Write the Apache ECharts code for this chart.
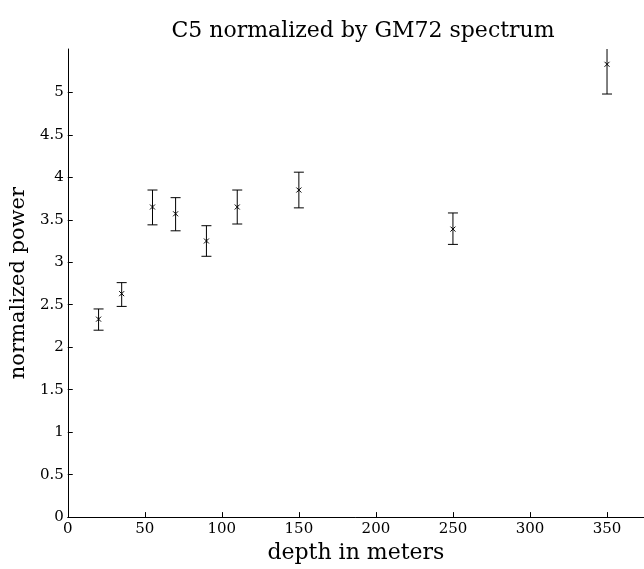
<!DOCTYPE html>
<html>
<head>
<meta charset="utf-8">
<script src="https://cdn.jsdelivr.net/npm/echarts@6/dist/echarts.min.js"></script>
<style>
html,body{margin:0;padding:0;background:#fff;}
#chart{width:644px;height:569px;}
</style>
</head>
<body>
<div id="chart"></div>
<script>
// Data
const depths = [20, 35, 55, 70, 90, 110, 150, 250, 350];
const values = [2.33, 2.63, 3.65, 3.57, 3.25, 3.65, 3.85, 3.39, 5.33];
const lower  = [2.20, 2.48, 3.44, 3.37, 3.07, 3.45, 3.64, 3.21, 4.98];
const upper  = [2.45, 2.76, 3.85, 3.76, 3.43, 3.85, 4.06, 3.58, 5.68];
const xTicks = [0, 50, 100, 150, 200, 250, 300, 350];
const yTicks = [0, 0.5, 1, 1.5, 2, 2.5, 3, 3.5, 4, 4.5, 5];

const FONT = '"DejaVu Serif", serif';
const rows = depths.map((d, i) => [d, values[i], lower[i], upper[i]]);

const chart = echarts.init(document.getElementById('chart'), null, {renderer: 'canvas'});
chart.setOption({
  animation: false,
  backgroundColor: '#fff',
  title: {
    text: 'C5 normalized by GM72 spectrum',
    left: 358, top: 15, textAlign: 'center',
    textStyle: {fontFamily: FONT, fontSize: 22, fontWeight: 'normal', color: '#000'}
  },
  grid: {left: 63, right: 0, top: 49, bottom: 47, containLabel: false},
  xAxis: {
    type: 'value', min: 0, max: 374,
    name: 'depth in meters', nameLocation: 'middle', nameGap: 21,
    nameTextStyle: {fontFamily: FONT, fontSize: 22, color: '#000'},
    axisLine: {show: true, lineStyle: {color: '#000', width: 1}},
    axisTick: {show: true, inside: true, length: 5, customValues: xTicks, lineStyle: {color: '#000'}},
    axisLabel: {customValues: xTicks, fontFamily: FONT, fontSize: 15, color: '#000', margin: 5},
    splitLine: {show: false}
  },
  yAxis: {
    type: 'value', min: 0, max: 5.51,
    name: 'normalized power', nameLocation: 'middle', nameGap: 26,
    nameTextStyle: {fontFamily: FONT, fontSize: 21, color: '#000'},
    axisLine: {show: true, lineStyle: {color: '#000', width: 1}},
    axisTick: {show: true, inside: true, length: 5, customValues: yTicks, lineStyle: {color: '#000'}},
    axisLabel: {customValues: yTicks, fontFamily: FONT, fontSize: 15, color: '#000', margin: 4},
    splitLine: {show: false}
  },
  series: [{
    type: 'custom',
    clip: true,
    data: rows,
    encode: {x: 0, y: [1, 2, 3]},
    renderItem: function (params, api) {
      const x = api.value(0);
      const p = api.coord([x, api.value(1)]);
      const lo = api.coord([x, api.value(2)]);
      const hi = api.coord([x, api.value(3)]);
      const cw = 5, m = 2.5;
      const st = {stroke: '#000', lineWidth: 1, fill: null};
      return {
        type: 'group',
        children: [
          {type: 'line', shape: {x1: lo[0], y1: lo[1], x2: hi[0], y2: hi[1]}, style: st},
          {type: 'line', shape: {x1: lo[0] - cw, y1: lo[1], x2: lo[0] + cw, y2: lo[1]}, style: st},
          {type: 'line', shape: {x1: hi[0] - cw, y1: hi[1], x2: hi[0] + cw, y2: hi[1]}, style: st},
          {type: 'line', shape: {x1: p[0] - m, y1: p[1] - m, x2: p[0] + m, y2: p[1] + m}, style: st},
          {type: 'line', shape: {x1: p[0] - m, y1: p[1] + m, x2: p[0] + m, y2: p[1] - m}, style: st}
        ]
      };
    }
  }]
});
</script>
</body>
</html>
